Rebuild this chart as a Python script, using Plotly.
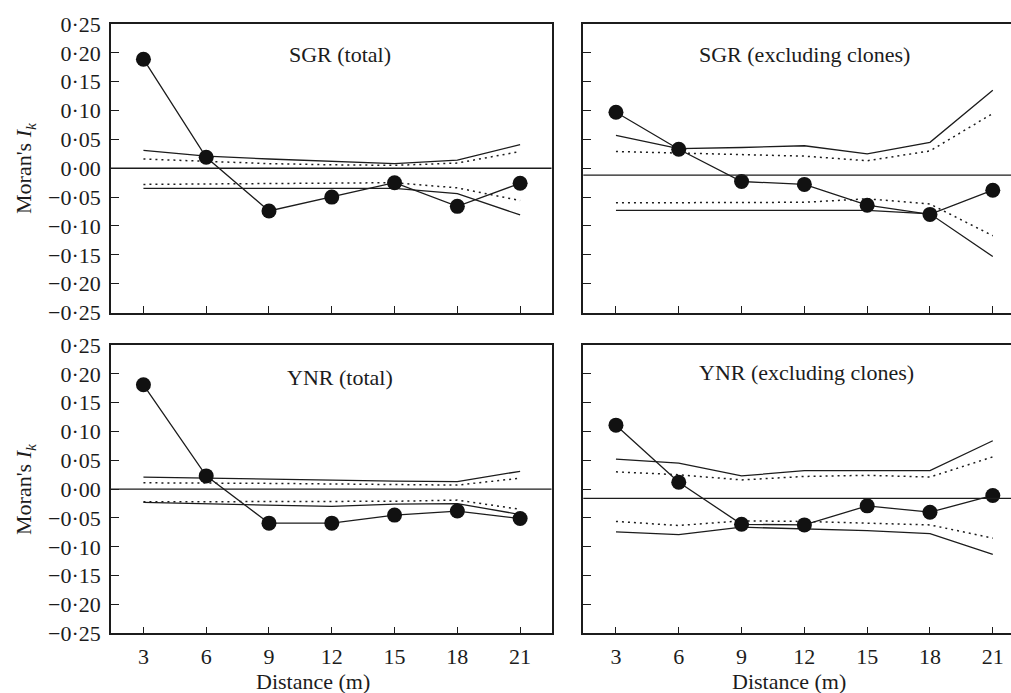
import plotly.graph_objects as go

distance = [3, 6, 9, 12, 15, 18, 21]

# SGR (total)
sgr_total_I = [0.189, 0.019, -0.074, -0.050, -0.025, -0.066, -0.026]
sgr_total_up_solid = [0.031, 0.021, 0.016, 0.012, 0.008, 0.014, 0.041]
sgr_total_up_dot = [0.016, 0.012, 0.008, 0.006, 0.005, 0.009, 0.029]
sgr_total_lo_dot = [-0.028, -0.027, -0.026, -0.025, -0.025, -0.034, -0.056]
sgr_total_lo_solid = [-0.035, -0.035, -0.035, -0.035, -0.035, -0.044, -0.081]
sgr_total_expected = 0.0

# SGR (excluding clones)
sgr_excl_I = [0.097, 0.033, -0.023, -0.028, -0.064, -0.080, -0.038]
sgr_excl_up_solid = [0.057, 0.034, 0.036, 0.039, 0.025, 0.045, 0.135]
sgr_excl_up_dot = [0.029, 0.026, 0.024, 0.021, 0.013, 0.030, 0.095]
sgr_excl_lo_dot = [-0.060, -0.060, -0.060, -0.059, -0.053, -0.062, -0.117]
sgr_excl_lo_solid = [-0.073, -0.073, -0.073, -0.073, -0.073, -0.079, -0.153]
sgr_excl_expected = -0.012

# YNR (total)
ynr_total_I = [0.181, 0.023, -0.059, -0.059, -0.045, -0.038, -0.051]
ynr_total_up_solid = [0.021, 0.019, 0.017, 0.016, 0.014, 0.013, 0.031]
ynr_total_up_dot = [0.011, 0.011, 0.010, 0.009, 0.008, 0.007, 0.019]
ynr_total_lo_dot = [-0.022, -0.022, -0.022, -0.022, -0.021, -0.019, -0.035]
ynr_total_lo_solid = [-0.023, -0.025, -0.028, -0.030, -0.026, -0.025, -0.044]
ynr_total_expected = 0.0

# YNR (excluding clones)
ynr_excl_I = [0.111, 0.012, -0.061, -0.062, -0.029, -0.040, -0.011]
ynr_excl_up_solid = [0.052, 0.045, 0.023, 0.032, 0.032, 0.032, 0.084]
ynr_excl_up_dot = [0.030, 0.025, 0.016, 0.022, 0.024, 0.021, 0.056]
ynr_excl_lo_dot = [-0.056, -0.063, -0.055, -0.056, -0.059, -0.062, -0.085]
ynr_excl_lo_solid = [-0.074, -0.079, -0.066, -0.069, -0.072, -0.077, -0.113]
ynr_excl_expected = -0.016

panel_titles = ["SGR (total)", "SGR (excluding clones)", "YNR (total)", "YNR (excluding clones)"]
y_ticks = [0.25, 0.20, 0.15, 0.10, 0.05, 0.0, -0.05, -0.10, -0.15, -0.20, -0.25]
x_title = "Distance (m)"
y_title = "Moran's <i>I</i><sub><i>k</i></sub>"


def fmt(v):
    s = f"{abs(v):.2f}".replace(".", "·")
    return ("−" + s) if v < 0 else s


y_ticktext = [fmt(v) for v in y_ticks]

panels = [
    (sgr_total_I, sgr_total_up_solid, sgr_total_up_dot, sgr_total_lo_dot, sgr_total_lo_solid, sgr_total_expected),
    (sgr_excl_I, sgr_excl_up_solid, sgr_excl_up_dot, sgr_excl_lo_dot, sgr_excl_lo_solid, sgr_excl_expected),
    (ynr_total_I, ynr_total_up_solid, ynr_total_up_dot, ynr_total_lo_dot, ynr_total_lo_solid, ynr_total_expected),
    (ynr_excl_I, ynr_excl_up_solid, ynr_excl_up_dot, ynr_excl_lo_dot, ynr_excl_lo_solid, ynr_excl_expected),
]

INK = "#1c1c1c"
FONT = "Liberation Serif"
FS = 22
W, H = 1011, 693

fig = go.Figure()
suffix = ["", "2", "3", "4"]
for i, (I, us, ud, ld, ls, ex) in enumerate(panels):
    xa, ya = "x" + suffix[i], "y" + suffix[i]
    for series in (us, ls):
        fig.add_trace(go.Scatter(x=distance, y=series, mode="lines", xaxis=xa, yaxis=ya,
                                 line=dict(color=INK, width=1.3), showlegend=False, hoverinfo="skip"))
    for series in (ud, ld):
        fig.add_trace(go.Scatter(x=distance, y=series, mode="lines", xaxis=xa, yaxis=ya,
                                 line=dict(color=INK, width=1.5, dash="2px,4px"), showlegend=False,
                                 hoverinfo="skip"))
    fig.add_trace(go.Scatter(x=distance, y=I, mode="lines+markers", xaxis=xa, yaxis=ya,
                             line=dict(color=INK, width=1.3),
                             marker=dict(color="#111111", size=15, line=dict(width=0)),
                             showlegend=False))
    fig.add_shape(type="line", xref=xa + " domain", yref=ya, x0=0, x1=1, y0=ex, y1=ex,
                  line=dict(color=INK, width=1.3))

left_dom = [111 / W, 551.5 / W]
right_dom = [583.3 / W, 1.0]
top_dom = [1 - 312.5 / H, 1 - 24 / H]
bot_dom = [1 - 633.3 / H, 1 - 345 / H]
left_range = [1.45, 22.5]
right_range = [1.44, 21.87]

axis_common = dict(showline=True, linecolor=INK, linewidth=1.5, showgrid=False, zeroline=False,
                   ticks="inside", tickcolor=INK, tickwidth=1.3, automargin=False,
                   tickfont=dict(family=FONT, size=FS, color=INK))

layout_axes = {}
specs = [
    ("", left_dom, top_dom, left_range, True, False, True),
    ("2", right_dom, top_dom, right_range, False, False, False),
    ("3", left_dom, bot_dom, left_range, True, True, True),
    ("4", right_dom, bot_dom, right_range, False, True, False),
]
for suf, xd, yd, xr, show_ylab, show_xlab, ymirror in specs:
    layout_axes["xaxis" + suf] = dict(axis_common, domain=xd, range=xr, anchor="y" + suf,
                                      tickvals=distance, ticktext=[str(d) for d in distance],
                                      showticklabels=show_xlab, ticklen=7, mirror=True,
                                      ticklabelstandoff=3)
    layout_axes["yaxis" + suf] = dict(axis_common, domain=yd, range=[-0.25, 0.25], anchor="x" + suf,
                                      tickvals=y_ticks, ticktext=y_ticktext,
                                      showticklabels=show_ylab, ticklen=8, mirror=ymirror,
                                      ticklabelstandoff=4)

annotations = []
title_pos = [("x", "y", 12.39, 0.197), ("x2", "y2", 12.0, 0.197),
             ("x3", "y3", 12.39, 0.194), ("x4", "y4", 12.08, 0.203)]
for t, (xr_, yr_, xx, yy) in zip(panel_titles, title_pos):
    annotations.append(dict(text=t, x=xx, y=yy, xref=xr_, yref=yr_, showarrow=False,
                            xanchor="center", yanchor="middle",
                            font=dict(family=FONT, size=FS, color=INK)))
for xr_, xx in (("x3", 11.1), ("x4", 11.27)):
    annotations.append(dict(text=x_title, x=xx, y=1 - 681 / H, xref=xr_, yref="paper",
                            xanchor="center", yanchor="middle",
                            showarrow=False, font=dict(family=FONT, size=FS, color=INK)))
for yc in (168, 489):
    annotations.append(dict(text=y_title, x=25 / W, y=1 - yc / H, xref="paper", yref="paper",
                            xanchor="center", yanchor="middle",
                            textangle=-90, showarrow=False,
                            font=dict(family=FONT, size=FS, color=INK)))

fig.update_layout(width=W, height=H, margin=dict(l=0, r=0, t=0, b=0, pad=0, autoexpand=False),
                  paper_bgcolor="white", plot_bgcolor="white",
                  annotations=annotations, **layout_axes)

fig.write_html("out.html", config={"displayModeBar": False},
               post_script="document.body.style.margin='0';document.body.style.overflow='hidden';")
